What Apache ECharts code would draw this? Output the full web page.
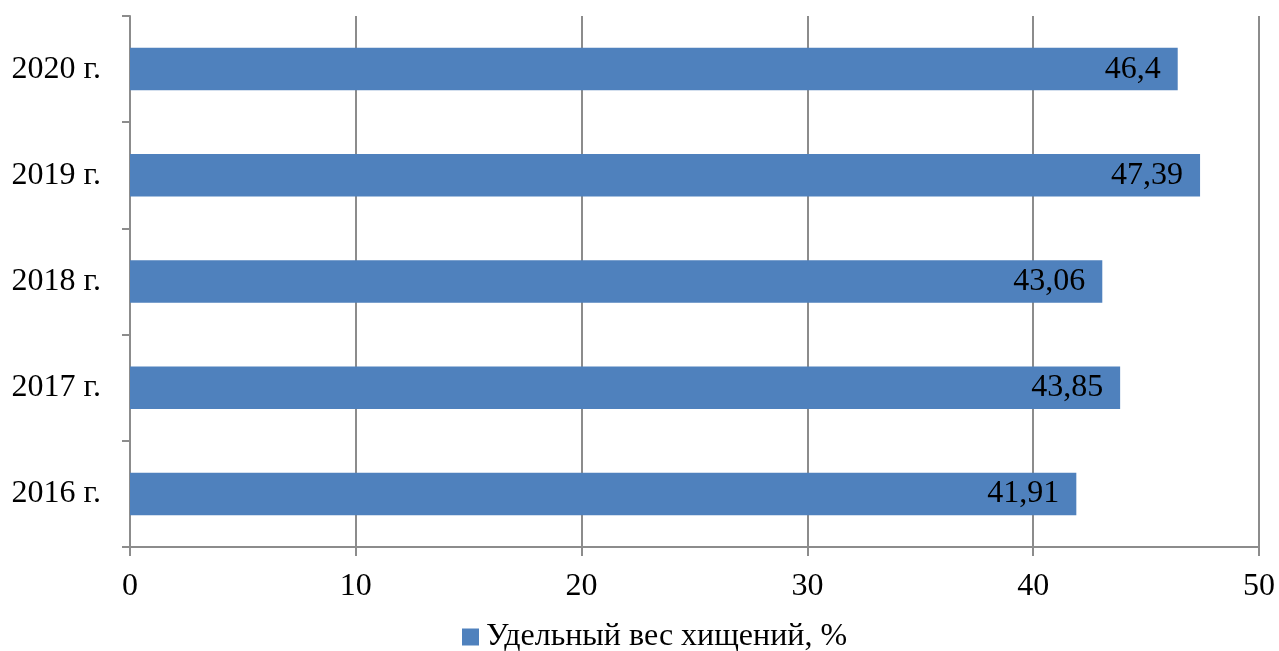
<!DOCTYPE html>
<html>
<head>
<meta charset="utf-8">
<script src="https://cdn.jsdelivr.net/npm/echarts@6/dist/echarts.min.js"></script>
<style>
html,body{margin:0;padding:0;background:#fff;}
#chart{width:1279px;height:651px;}
</style>
</head>
<body>
<div id="chart"></div>
<script>
const categories = ['2016 г.', '2017 г.', '2018 г.', '2019 г.', '2020 г.'];
const values = [41.91, 43.85, 43.06, 47.39, 46.4];
const seriesName = 'Удельный вес хищений, %';
const xTicks = [0, 10, 20, 30, 40, 50];

const font = '"Liberation Serif", "Times New Roman", serif';
const chart = echarts.init(document.getElementById('chart'));
chart.setOption({
  animation: false,
  textStyle: {fontFamily: font},
  grid: {left: 130, right: 20, top: 16, bottom: 104, containLabel: false},
  legend: {
    top: 616, left: 457,
    data: [seriesName],
    icon: 'rect', itemWidth: 17, itemHeight: 17, itemGap: 4,
    textStyle: {fontFamily: font, fontSize: 32, color: '#000', padding: [0,0,0,2]}
  },
  xAxis: {
    type: 'value', min: xTicks[0], max: xTicks[xTicks.length-1], interval: 10,
    axisLine: {show: true, lineStyle: {color: '#8c8c8c', width: 2}},
    axisTick: {show: true, length: 9, lineStyle: {color: '#8c8c8c', width: 2}},
    splitLine: {show: true, lineStyle: {color: '#8c8c8c', width: 2}},
    axisLabel: {fontFamily: font, fontSize: 32, color: '#000', margin: 24}
  },
  yAxis: {
    type: 'category', data: categories,
    axisLine: {show: true, lineStyle: {color: '#8c8c8c', width: 2}},
    axisTick: {show: true, length: 8, lineStyle: {color: '#8c8c8c', width: 2}},
    axisLabel: {fontFamily: font, fontSize: 32, color: '#000', margin: 29}
  },
  series: [{
    name: seriesName, type: 'bar', data: values,
    barCategoryGap: '60%',
    itemStyle: {color: '#4f81bd'},
    label: {
      show: true, position: 'insideRight', distance: 17,
      fontFamily: font, fontSize: 32, color: '#000',
      formatter: p => String(p.value).replace('.', ',')
    }
  }]
});
</script>
</body>
</html>
